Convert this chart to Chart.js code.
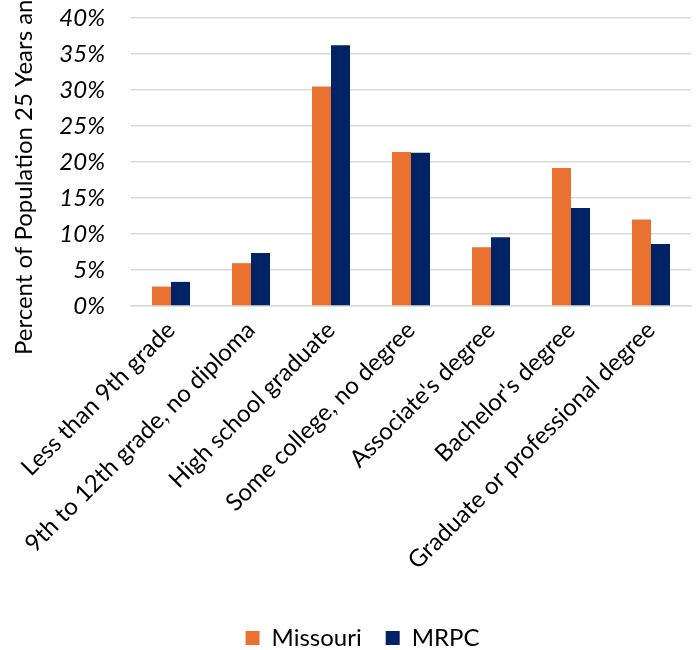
<!DOCTYPE html>
<html>
<head>
<meta charset="utf-8">
<script src="https://cdn.jsdelivr.net/npm/chart.js@4"></script>
<style>
  html, body { margin: 0; padding: 0; background: #fff; overflow: hidden; }
  #wrap { width: 696px; height: 660px; position: relative; }
</style>
</head>
<body>
<div id="wrap"><canvas id="eduChart"></canvas></div>
<script>
const categories = [
    "Less than 9th grade",
    "9th to 12th grade, no diploma",
    "High school graduate",
    "Some college, no degree",
    "Associate's degree",
    "Bachelor's degree",
    "Graduate or professional degree"
];
const missouri = [2.7, 5.95, 30.5, 21.4, 8.15, 19.15, 12.0];
const mrpc = [3.35, 7.35, 36.2, 21.3, 9.55, 13.6, 8.6];
const yTicks = [0, 5, 10, 15, 20, 25, 30, 35, 40];

const FONT = "Lato, 'Open Sans', sans-serif";

// y-axis title, drawn from below the axis so it runs off the top like the original
const yTitlePlugin = {
    id: "yTitle",
    afterDraw(chart) {
        const ctx = chart.ctx;
        ctx.save();
        ctx.translate(32, 355);
        ctx.rotate(-Math.PI / 2);
        ctx.font = "24px " + FONT;
        ctx.fillStyle = "#000";
        ctx.textAlign = "left";
        ctx.textBaseline = "alphabetic";
        ctx.fillText("Percent of Population 25 Years and Over", 0, 0);
        ctx.restore();
    }
};

const ctx = document.getElementById("eduChart").getContext("2d");
new Chart(ctx, {
    type: "bar",
    data: {
        labels: categories,
        datasets: [
            { label: "Missouri", data: missouri, backgroundColor: "#E97132" },
            { label: "MRPC", data: mrpc, backgroundColor: "#002366" }
        ]
    },
    options: {
        responsive: true,
        maintainAspectRatio: false,
        animation: false,
        layout: { padding: { top: 18, right: 5, left: 34, bottom: 0 } },
        datasets: {
            bar: { categoryPercentage: 0.475, barPercentage: 1.0 }
        },
        plugins: {
            legend: {
                display: true,
                position: "bottom",
                labels: {
                    font: { family: FONT, size: 24 },
                    color: "#000",
                    boxWidth: 14,
                    boxHeight: 14,
                    padding: 24
                }
            },
            tooltip: { enabled: false }
        },
        scales: {
            x: {
                grid: { display: false, drawTicks: false },
                border: { color: "#D9D9D9", width: 1.5 },
                ticks: {
                    font: { family: FONT, size: 24 },
                    color: "#000",
                    minRotation: 45,
                    maxRotation: 45,
                    padding: 10
                },
                afterFit(scale) { scale.height = 296; }
            },
            y: {
                min: 0,
                max: 40,
                afterBuildTicks(scale) {
                    scale.ticks = yTicks.map(v => ({ value: v }));
                },
                grid: { color: "#D9D9D9", lineWidth: 1.5, drawTicks: false },
                border: { display: false },
                ticks: {
                    font: { family: FONT, size: 24, style: "italic" },
                    color: "#000",
                    padding: 26,
                    callback: v => v + "%"
                },
                afterFit(scale) {
                    scale.width = 97;
                    scale.paddingTop = 0;
                    scale.paddingBottom = 0;
                }
            }
        }
    },
    plugins: [yTitlePlugin]
});
</script>
</body>
</html>
